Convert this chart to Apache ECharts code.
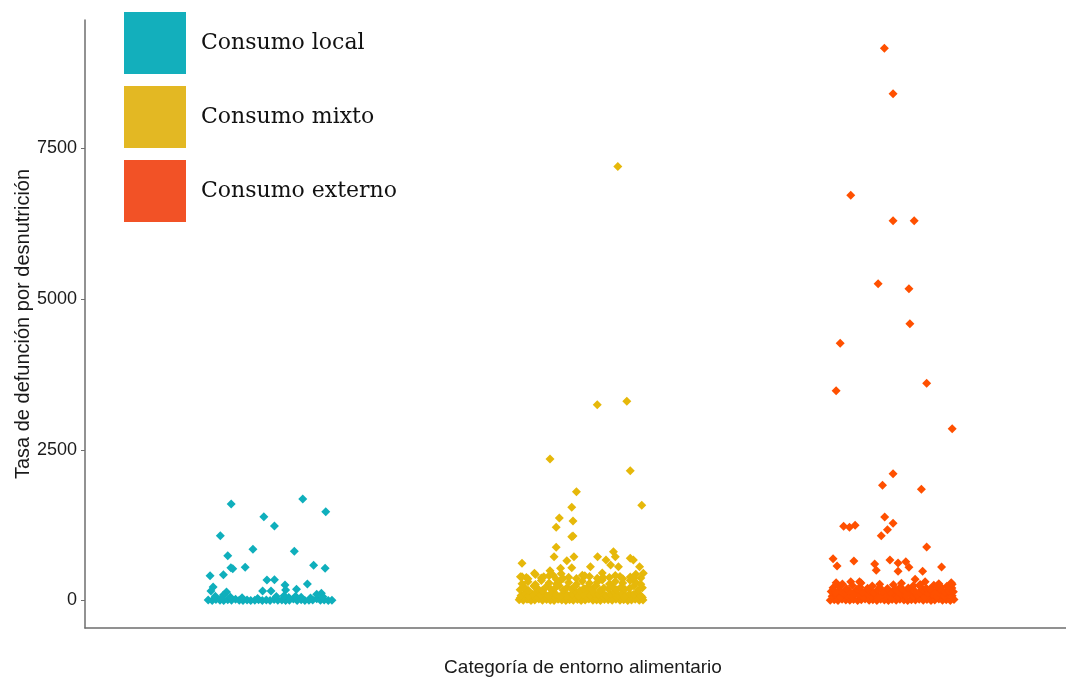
<!DOCTYPE html>
<html>
<head>
<meta charset="utf-8">
<script src="https://cdn.jsdelivr.net/npm/echarts@6/dist/echarts.min.js"></script>
<style>
  html, body { margin: 0; padding: 0; background: #ffffff; }
  #chart { width: 1066px; height: 682px; }
</style>
</head>
<body>
<div id="chart"></div>
<script>
// Categories of the food environment and the y-axis ticks
const categories = ['Consumo local', 'Consumo mixto', 'Consumo externo'];
const yTicks = [0, 2500, 5000, 7500];

// Horizontal jitter (in category units) of the dense rows near zero
const rowJitterA = [-0.199,-0.186,-0.174,-0.161,-0.149,-0.136,-0.124,-0.111,-0.099,-0.087,-0.074,-0.062,-0.049,-0.037,-0.025,-0.012,0.000,0.013,0.025,0.038,0.050,0.062,0.075,0.087,0.100,0.112,0.125,0.137,0.150,0.162,0.174,0.187,0.199];
const rowJitterB = [-0.193,-0.181,-0.168,-0.155,-0.143,-0.130,-0.118,-0.105,-0.093,-0.080,-0.068,-0.055,-0.043,-0.030,-0.018,-0.006,0.007,0.019,0.031,0.044,0.056,0.069,0.081,0.094,0.106,0.118,0.131,0.143,0.156,0.168,0.181,0.193];
const rowJitterC = [-0.196,-0.182,-0.169,-0.152,-0.139,-0.124,-0.113,-0.097,-0.084,-0.071,-0.058,-0.046,-0.031,-0.019,-0.004,0.009,0.022,0.035,0.048,0.061,0.073,0.088,0.101,0.115,0.128,0.141,0.156,0.170,0.184,0.197];
const rowJitterD = [-0.190,-0.171,-0.147,-0.128,-0.103,-0.079,-0.064,-0.040,-0.015,0.004,0.027,0.052,0.068,0.091,0.110,0.134,0.158,0.176,0.192];

// Consumo local
const localJitter = [-0.125,0.105,0.179,-0.020,0.014,-0.160,-0.055,0.078,-0.136,-0.126,-0.120,-0.080,0.140,0.177,-0.193,-0.150,-0.010,0.014,0.120,0.048,0.050,0.085,-0.183,-0.190,-0.140,-0.024,0.003,0.150,0.165,-0.150,
  -0.176,-0.128,-0.090,0.020,0.060,0.100,0.130,0.170,-0.040,-0.155,0.045,0.082];
const localRate = [1601,1684,1473,1390,1236,1075,849,816,743,544,528,551,584,534,411,428,340,345,274,257,174,186,224,158,141,158,158,103,119,91,
  70,58,45,65,48,55,40,62,35,40,80,72];
const localRowA = [8,2,15,4,0,11,3,22,6,1,9,0,5,14,2,7,0,18,3,10,1,6,25,2,12,0,4,9,30,3,8,1,5];

// Consumo mixto
const mixtoJitter = [0.118,0.052,0.147,-0.100,0.158,-0.015,0.195,-0.030,-0.070,-0.026,-0.080,-0.030,-0.026,-0.080,-0.087,-0.190,-0.046,-0.023,0.053,0.080,0.104,0.110,0.158,0.168,0.095,0.120,0.188,0.200,-0.100,-0.066,-0.030,0.030,-0.150,-0.195,
  -0.176,-0.120,-0.058,0.012,0.070,0.125,0.170,-0.090];
const mixtoRate = [7200,3248,3305,2348,2154,1805,1579,1546,1369,1319,1214,1058,1070,882,726,617,660,726,726,672,809,726,700,672,589,561,561,451,494,534,544,561,451,395,
  380,395,365,410,385,400,370,420];
const mixtoRowA = [12,4,20,0,9,27,3,15,6,1,22,8,0,13,5,18,2,10,25,4,7,0,16,11,3,21,6,14,1,9,19,5,8];
const mixtoRowB = [85,120,70,105,140,92,115,78,130,100,65,125,88,110,145,75,102,135,82,118,95,128,72,108,140,90,122,80,113,98,132,76];
const mixtoRowC = [180,215,165,240,195,170,225,185,205,250,175,210,190,235,168,200,228,182,245,172,208,192,230,178,218,188,205,240,170,212];
const mixtoRowD = [280,310,265,330,290,275,345,300,270,320,285,305,340,275,315,290,330,300,270];
const mixtoRowE = [40,55,30,62,48,35,70,44,58,33,66,50,38,60,45,72,36,54,41,68,47,59,34,63,52,39,57,43,65,49];
const mixtoRowF = [395,360,430,375,410,350,445,385,365,420,400,370,455,380,415,360,390,435,372];

// Consumo externo
const externoJitter = [-0.025,0.003,-0.133,0.003,0.071,-0.045,0.054,0.057,-0.167,0.111,-0.180,0.193,0.003,-0.031,0.094,-0.024,-0.156,-0.137,-0.119,0.003,-0.015,-0.035,0.111,-0.190,-0.177,-0.123,-0.056,-0.051,-0.007,0.019,0.019,0.044,0.054,0.098,0.159,0.074,-0.180,-0.133,-0.105,0.106,0.193,0.122,0.144,
  -0.160,-0.100,-0.040,0.030,0.090,0.150,0.190];
const externoRate = [9161,8408,6722,6301,6301,5256,5173,4592,4267,3603,3481,2850,2104,1911,1845,1385,1231,1214,1248,1281,1175,1075,888,693,572,655,606,501,672,622,484,644,551,484,556,352,295,312,312,312,269,191,241,
  275,290,270,285,265,280,295];
const externoRowA = [6,14,1,22,9,3,17,0,11,25,5,13,2,19,8,0,15,4,23,10,1,12,7,20,3,16,0,9,24,6,13,2,18];
const externoRowB = [70,95,58,110,82,64,102,88,55,118,76,92,61,105,84,70,115,60,98,79,108,66,90,112,57,86,100,72,94,63,106,80];
const externoRowC = [150,130,175,142,160,125,185,138,168,152,128,178,145,162,135,190,148,170,132,182,156,140,172,128,165,150,188,136,158,144];
const externoRowD = [210,235,200,250,220,205,240,215,198,260,225,208,245,230,202,255,218,238,206];

// Build [x, y] pairs: x is the category position (1, 2, 3) plus its jitter
function points(catIndex, jitter, rate) {
  return jitter.map((j, i) => [catIndex + 1 + j, rate[i]]);
}

const localData = [].concat(
  points(0, rowJitterA, localRowA),
  points(0, localJitter, localRate)
);
const mixtoData = [].concat(
  points(1, rowJitterA, mixtoRowA),
  points(1, rowJitterC, mixtoRowE),
  points(1, rowJitterB, mixtoRowB),
  points(1, rowJitterC, mixtoRowC),
  points(1, rowJitterD, mixtoRowD),
  points(1, rowJitterD, mixtoRowF),
  points(1, mixtoJitter, mixtoRate)
);
const externoData = [].concat(
  points(2, rowJitterA, externoRowA),
  points(2, rowJitterB, externoRowB),
  points(2, rowJitterC, externoRowC),
  points(2, rowJitterD, externoRowD),
  points(2, externoJitter, externoRate)
);

const pointColors = ['#0fafbc', '#e6b80a', '#ff5000'];
const legendColors = ['#13afbc', '#e3b823', '#f25226'];

const chart = echarts.init(document.getElementById('chart'), null, { renderer: 'canvas' });

const axisLineColor = '#6e6e6e';

chart.setOption({
  animation: false,
  backgroundColor: '#ffffff',
  grid: { left: 85, right: 0, top: 20, bottom: 54, containLabel: false, outerBoundsMode: 'none' },
  legend: {
    orient: 'vertical',
    left: 124,
    top: 12,
    padding: 0,
    itemWidth: 62,
    itemHeight: 62,
    itemGap: 12,
    icon: 'rect',
    textStyle: {
      fontFamily: 'DejaVu Serif',
      fontSize: 22,
      color: '#111111',
      padding: [0, 0, 0, 10]
    },
    data: categories.map((name, i) => ({ name, itemStyle: { color: legendColors[i] } }))
  },
  xAxis: {
    type: 'value',
    // the panel runs past the right edge of the canvas
    min: 0.405,
    max: 3.559,
    name: 'Categoría de entorno alimentario',
    nameLocation: 'middle',
    nameGap: 30,
    nameTextStyle: { fontFamily: 'Liberation Sans', fontSize: 19, color: '#1a1a1a', padding: [0, 0, 0, 15] },
    axisLine: { show: true, onZero: false, lineStyle: { color: axisLineColor, width: 1.5 } },
    axisTick: { show: false },
    axisLabel: { show: false },
    splitLine: { show: false }
  },
  yAxis: {
    type: 'value',
    min: -456,
    max: 9631,
    name: 'Tasa de defunción por desnutrición',
    nameLocation: 'middle',
    nameGap: 52,
    nameMoveOverlap: false,
    nameRotate: 90,
    nameTextStyle: { fontFamily: 'Liberation Sans', fontSize: 20, color: '#1a1a1a' },
    axisLine: { show: true, onZero: false, lineStyle: { color: axisLineColor, width: 1.5 } },
    axisTick: { show: true, length: 4, customValues: yTicks, lineStyle: { color: axisLineColor, width: 1 } },
    axisLabel: {
      show: true, customValues: yTicks, margin: 8,
      fontFamily: 'Liberation Sans', fontSize: 18, color: '#1a1a1a',
      formatter: v => String(v)
    },
    splitLine: { show: false }
  },
  series: [
    { name: categories[0], type: 'scatter', symbol: 'diamond', symbolSize: 9, data: localData, itemStyle: { color: pointColors[0], opacity: 1 } },
    { name: categories[1], type: 'scatter', symbol: 'diamond', symbolSize: 9, data: mixtoData, itemStyle: { color: pointColors[1], opacity: 1 } },
    { name: categories[2], type: 'scatter', symbol: 'diamond', symbolSize: 9, data: externoData, itemStyle: { color: pointColors[2], opacity: 1 } }
  ]
});
</script>
</body>
</html>
